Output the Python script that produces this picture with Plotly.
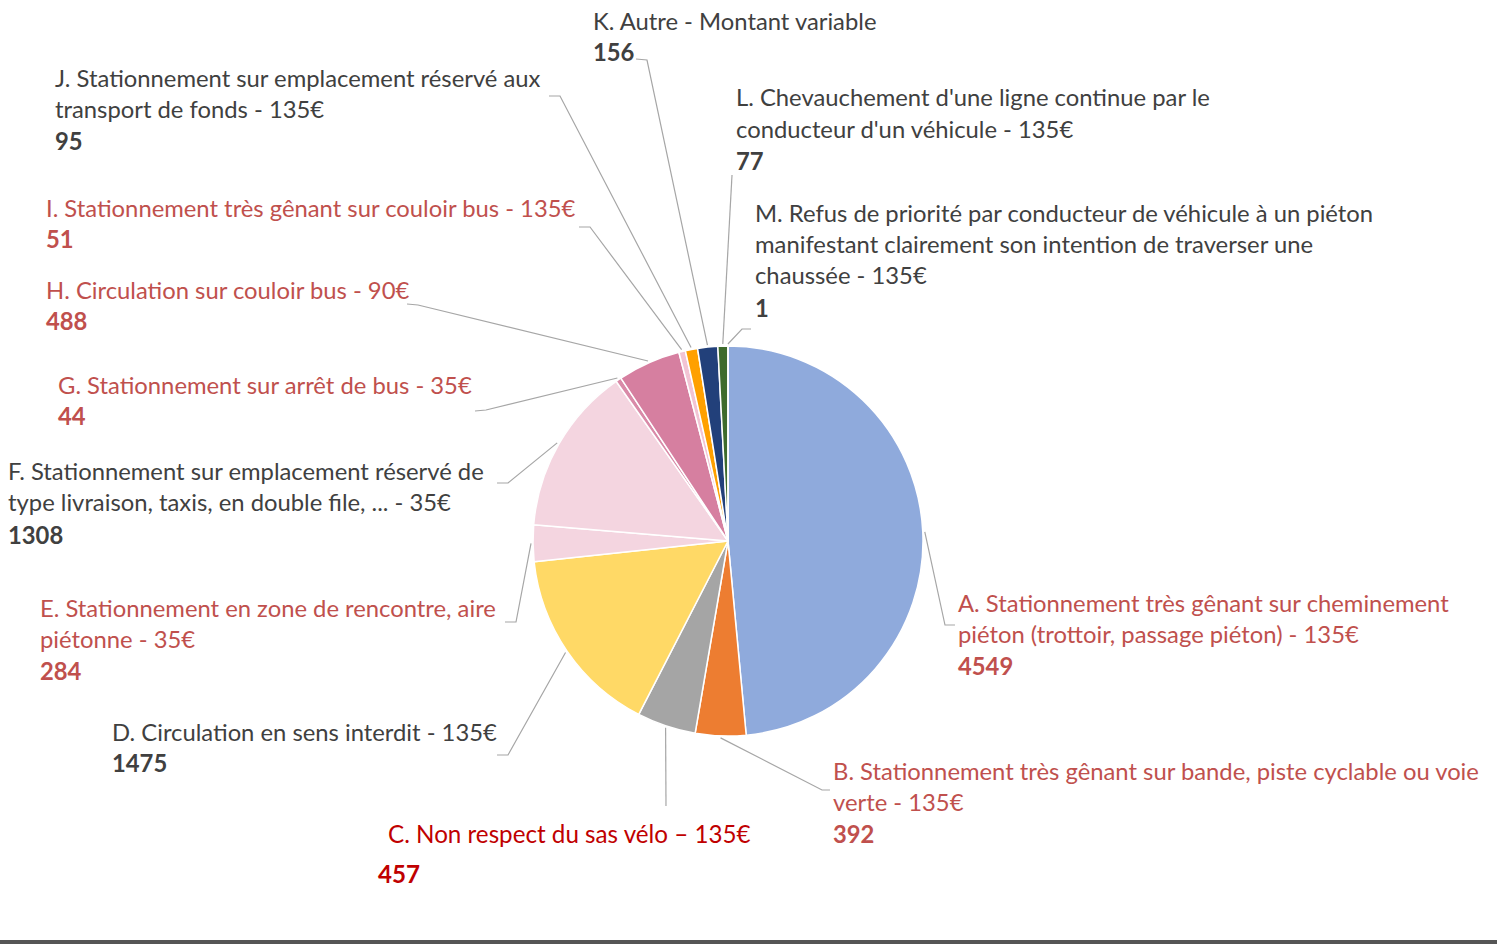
import math
import plotly.graph_objects as go

# ---------------- data ----------------
codes = ["A", "B", "C", "D", "E", "F", "G", "H", "I", "J", "K", "L", "M"]
label_lines = [
    ["A. Stationnement très gênant sur cheminement", "piéton (trottoir, passage piéton) - 135€"],
    ["B. Stationnement très gênant sur bande, piste cyclable ou voie", "verte - 135€"],
    ["C. Non respect du sas vélo – 135€"],
    ["D. Circulation en sens interdit - 135€"],
    ["E. Stationnement en zone de rencontre, aire", "piétonne - 35€"],
    ["F. Stationnement sur emplacement réservé de", "type livraison, taxis, en double file, ... - 35€"],
    ["G. Stationnement sur arrêt de bus - 35€"],
    ["H. Circulation sur couloir bus - 90€"],
    ["I. Stationnement très gênant sur couloir bus - 135€"],
    ["J. Stationnement sur emplacement réservé aux", "transport de fonds - 135€"],
    ["K. Autre - Montant variable"],
    ["L. Chevauchement d'une ligne continue par le", "conducteur d'un véhicule - 135€"],
    ["M. Refus de priorité par conducteur de véhicule à un piéton",
     "manifestant clairement son intention de traverser une", "chaussée - 135€"],
]
values = [4549, 392, 457, 1475, 284, 1308, 44, 488, 51, 95, 156, 77, 1]

slice_colors = ["#8faadc", "#ed7d31", "#a5a5a5", "#ffd966", "#f4d5e0", "#f4d5e0",
                "#d98aa8", "#d67fa0", "#f2c4d4", "#ffa000", "#22407a", "#3e6b2c", "#4a7a3a"]
RED = "#c0504d"
GRAY = "#404040"
DARKRED = "#c00000"
text_colors = [RED, RED, DARKRED, GRAY, RED, GRAY, RED, RED, RED, GRAY, GRAY, GRAY, GRAY]

# ---------------- layout (pixels) ----------------
W, H = 1497, 944
CX, CY, R = 728, 541, 195

# label placement: left x, first line centre y, line spacing, value line y
label_pos = {
    "A": (958, 603, 31, 666),
    "B": (833, 771, 31, 834),
    "C": (388, 833, 31, 873),
    "D": (112, 732, 31, 763),
    "E": (40, 608, 31, 671),
    "F": (8, 471, 31, 535),
    "G": (58, 385, 31, 416),
    "H": (46, 290, 31, 321),
    "I": (46, 208, 31, 239),
    "J": (55, 78, 31, 141),
    "K": (593, 21, 31, 52),
    "L": (736, 97, 32, 161),
    "M": (755, 213, 31, 308),
}
value_x = {"C": 378}
# leader line elbow and end points
leader = {
    "A": [(945, 625), (955, 625)],
    "B": [(822, 790), (830, 790)],
    "C": [(666, 806)],
    "D": [(508, 755), (497, 755)],
    "E": [(516, 622), (505, 622)],
    "F": [(508, 483), (497, 483)],
    "G": [(486, 410), (475, 411)],
    "H": [(418, 305), (407, 304)],
    "I": [(590, 227), (579, 227)],
    "J": [(560, 96), (549, 96)],
    "K": [(647, 60), (636, 59)],
    "L": [(732, 175)],
    "M": [(742, 329), (751, 329)],
}


def px(x):
    return x / W


def py(y):
    return 1 - y / H


fig = go.Figure()
fig.add_trace(go.Pie(
    labels=codes,
    values=values,
    sort=False,
    direction="clockwise",
    rotation=0,
    textinfo="none",
    hoverinfo="label+value",
    marker=dict(colors=slice_colors, line=dict(color="white", width=1.5)),
    domain=dict(x=[px(CX - R), px(CX + R)], y=[py(CY + R), py(CY - R)]),
    showlegend=False,
))

annotations = []
shapes = []
total = sum(values)
cum = 0
for code, lines, val, tcol in zip(codes, label_lines, values, text_colors):
    mid = (cum + val / 2) / total * 2 * math.pi
    cum += val
    sx = CX + (R + 2) * math.sin(mid)
    sy = CY - (R + 2) * math.cos(mid)
    pts = [(sx, sy)] + leader[code]
    path = "M " + " L ".join(f"{px(x):.5f},{py(y):.5f}" for x, y in pts)
    shapes.append(dict(type="path", path=path, xref="paper", yref="paper",
                       line=dict(color="#a6a6a6", width=1.2)))
    lx, ly, ls, vy = label_pos[code]
    fsize = 24.2 if code == "C" else 23.8
    for i, t in enumerate(lines):
        annotations.append(dict(
            x=px(lx - 2), y=py(ly + i * ls), xref="paper", yref="paper",
            text=t, showarrow=False, xanchor="left", yanchor="middle",
            font=dict(family="Lato, Open Sans, sans-serif", size=fsize, color=tcol)))
    annotations.append(dict(
        x=px(value_x.get(code, lx) - 2), y=py(vy), xref="paper", yref="paper",
        text=f"<b>{val}</b>", showarrow=False, xanchor="left", yanchor="middle",
        font=dict(family="Lato, Open Sans, sans-serif", size=fsize, color=tcol)))

# bottom grey bar of the original screenshot
shapes.append(dict(type="rect", xref="paper", yref="paper", x0=0, x1=1,
                   y0=0, y1=py(940), fillcolor="#555555", line=dict(width=0)))

fig.update_layout(
    width=W, height=H,
    margin=dict(l=0, r=0, t=0, b=0),
    paper_bgcolor="white",
    plot_bgcolor="white",
    annotations=annotations,
    shapes=shapes,
)

fig.write_html(
    "out.html",
    config={"displayModeBar": False},
    post_script="document.body.style.margin='0';document.body.style.overflow='hidden';",
)
